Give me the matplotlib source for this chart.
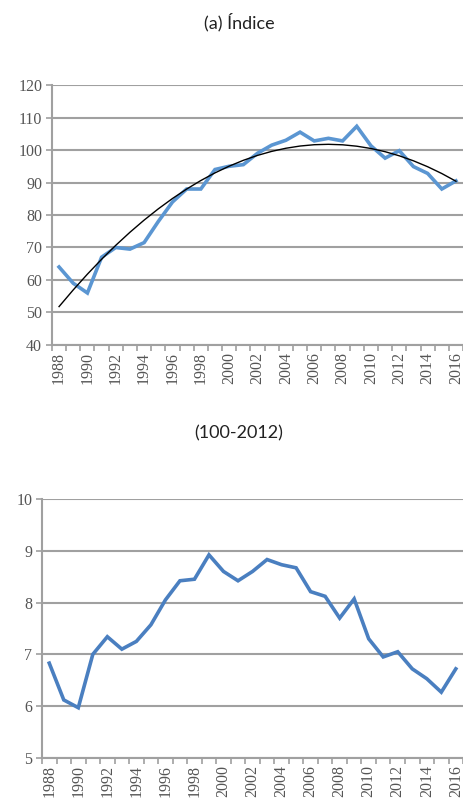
import numpy as np
import matplotlib
matplotlib.use("Agg")
import matplotlib.pyplot as plt

years = list(range(1988, 2017))
indice = [64, 59, 56, 67, 70, 69.5, 71.5, 78, 84, 88, 88, 94, 95, 95.5, 99,
          101.5, 103, 105.5, 102.8, 103.6, 102.8, 107.3, 101.3, 97.5, 99.8,
          94.9, 92.8, 88, 90.5]
ratio = [6.83, 6.12, 5.97, 7.0, 7.34, 7.1, 7.25, 7.57, 8.05, 8.42, 8.45,
         8.92, 8.6, 8.42, 8.6, 8.83, 8.73, 8.67, 8.21, 8.12, 7.7, 8.07, 7.3,
         6.95, 7.05, 6.72, 6.53, 6.27, 6.72]
year_labels = [str(y) if (y - 1988) % 2 == 0 else "" for y in years]

BLUE_TOP = "#5b96d2"
BLUE_BOT = "#4a7fc0"
GRID = "#a0a0a0"
TICK_COL = "#555555"
TICK_FONT = "Liberation Serif"
TITLE_FONT = "Lato"

fig = plt.figure(figsize=(4.64, 8.06), dpi=100)


def style_axes(ax, ymin, ymax, step):
    n = len(years)
    ax.set_xlim(0, n)
    ax.set_ylim(ymin, ymax)
    ax.set_yticks(np.arange(ymin, ymax + step / 2, step))
    ax.yaxis.grid(True, color=GRID, linewidth=1.5)
    ax.set_axisbelow(True)
    for s in ["top", "right"]:
        ax.spines[s].set_visible(False)
    for s in ["left", "bottom"]:
        ax.spines[s].set_color(GRID)
        ax.spines[s].set_linewidth(1.5)
    # category boundaries as tick marks, labels centred on categories
    ax.set_xticks(np.arange(0, n + 1), minor=True)
    ax.set_xticks(np.arange(n) + 0.5)
    ax.set_xticklabels(year_labels, rotation=90, fontfamily=TICK_FONT,
                       fontsize=11.5, color=TICK_COL)
    ax.tick_params(axis="x", which="major", length=0, pad=5)
    ax.tick_params(axis="x", which="minor", length=4, color=GRID, width=1.2)
    ax.tick_params(axis="y", length=4, color=GRID, width=1.2, pad=3,
                   labelcolor=TICK_COL)
    for lab in ax.get_yticklabels():
        lab.set_fontfamily(TICK_FONT)
        lab.set_fontsize(11.5)


x = np.arange(len(years)) + 0.5

# top panel: index with polynomial trend
ax1 = fig.add_axes([0.112, 0.572, 0.886, 0.3225])
style_axes(ax1, 40, 120, 10)
ax1.plot(x, indice, color=BLUE_TOP, linewidth=2.6, solid_joinstyle="miter")
coef = np.polyfit(x, indice, 2)
ax1.plot(x, np.polyval(coef, x), color="black", linewidth=1.0)

# bottom panel
ax2 = fig.add_axes([0.0905, 0.0596, 0.9075, 0.3214])
style_axes(ax2, 5, 10, 1)
ax2.plot(x, ratio, color=BLUE_BOT, linewidth=2.6, solid_joinstyle="miter")

fig.text(0.515, 1 - 22 / 806, "(a) Índice", ha="center", va="center",
         fontfamily=TITLE_FONT, fontsize=13, color="#222222")
fig.text(0.515, 1 - 433 / 806, "(100-2012)", ha="center", va="center",
         fontfamily=TITLE_FONT, fontsize=13, color="#222222")

fig.savefig("out.png", dpi=100)
